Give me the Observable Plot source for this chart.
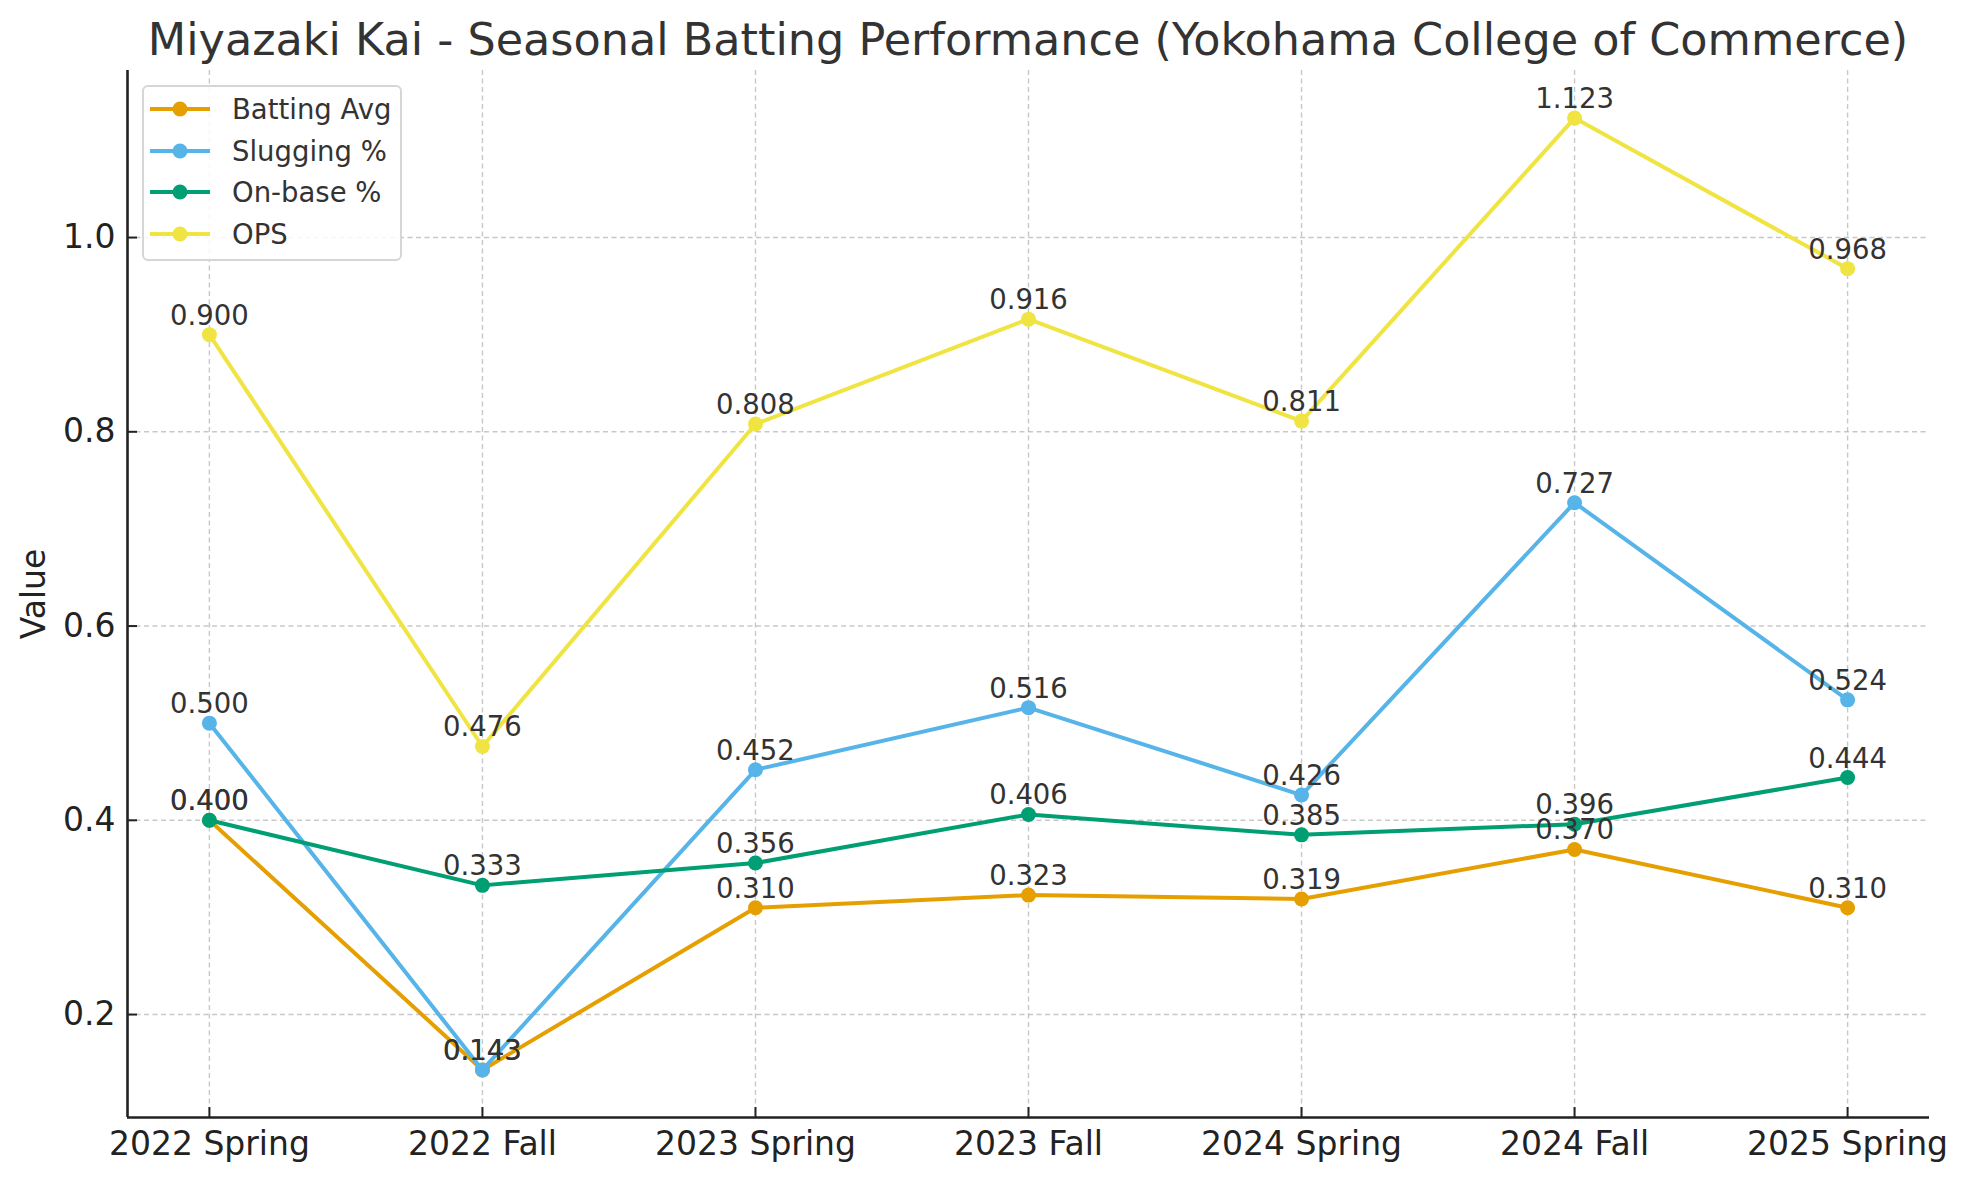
<!DOCTYPE html>
<html>
<head>
<meta charset="utf-8">
<script src="https://cdn.jsdelivr.net/npm/d3@7"></script>
<script src="https://cdn.jsdelivr.net/npm/@observablehq/plot@0.6"></script>
<style>
  html, body { margin: 0; padding: 0; background: #fff; }
  #figure { position: relative; width: 1968px; height: 1180px; font-family: "DejaVu Sans", sans-serif; color: #333; }
  #title { position: absolute; left: 127px; width: 1802px; top: 14px; line-height: 52px; text-align: center; font-size: 44.5px; color: #333; }
  #legend { position: absolute; left: 142px; top: 85px; width: 256px; height: 171px; border: 2px solid #d6d6d6; border-radius: 6px; background: rgba(255,255,255,0.85); box-sizing: content-box; padding-top: 1px; }
  .row { display: flex; align-items: center; height: 41.7px; }
  .row svg { margin-left: 6px; margin-right: 22px; }
  .row span { font-size: 27.5px; color: #333; white-space: nowrap; }
</style>
</head>
<body>
<div id="figure">
  <div id="title">Miyazaki Kai - Seasonal Batting Performance (Yokohama College of Commerce)</div>
  <div id="plot"></div>
  <div id="legend"></div>
</div>
<script>
// Season-by-season batting line
const seasons = ["2022 Spring", "2022 Fall", "2023 Spring", "2023 Fall", "2024 Spring", "2024 Fall", "2025 Spring"];
const battingAvg = [0.400, 0.143, 0.310, 0.323, 0.319, 0.370, 0.310];
const slugging   = [0.500, 0.143, 0.452, 0.516, 0.426, 0.727, 0.524];
const onBase     = [0.400, 0.333, 0.356, 0.406, 0.385, 0.396, 0.444];
const ops        = [0.900, 0.476, 0.808, 0.916, 0.811, 1.123, 0.968];
const yTicks = [0.2, 0.4, 0.6, 0.8, 1.0];

const seriesNames  = ["Batting Avg", "Slugging %", "On-base %", "OPS"];
const seriesValues = [battingAvg, slugging, onBase, ops];
const seriesColors = ["#E69F00", "#56B4E9", "#009E73", "#F0E442"];

const rows = seriesNames.flatMap((name, s) =>
  seriesValues[s].map((v, i) => ({series: name, idx: i, value: v, color: seriesColors[s]}))
);

// 5% padding around the data extent on the value axis
const allVals = seriesValues.flat();
const [vmin, vmax] = d3.extent(allVals);
const pad = (vmax - vmin) * 0.05;
const yDomain = [vmin - pad, vmax + pad];
const xDomain = [-0.3, seasons.length - 1 + 0.3];

const W = 1968, H = 1180;
const mL = 127, mR = 39, mT = 70, mB = 63;
const frameW = W - mL - mR, frameH = H - mT - mB;
const tickLen = 10;
const gridStyle = {stroke: "#b0b0b0", strokeOpacity: 0.7, strokeWidth: 1.4, strokeDasharray: "5,3.5"};

const marks = [
  Plot.gridX(d3.range(seasons.length), gridStyle),
  Plot.gridY(yTicks, gridStyle),
  // inward tick marks
  Plot.ruleX(d3.range(seasons.length), {x: d => d, insetTop: frameH - tickLen, stroke: "#222", strokeWidth: 2}),
  Plot.ruleY(yTicks, {y: d => d, insetRight: frameW - tickLen, stroke: "#222", strokeWidth: 2}),
  Plot.axisX(d3.range(seasons.length), {tickSize: 0, tickPadding: 14, tickFormat: i => seasons[i], fontSize: 33, fill: "#222", label: null}),
  Plot.axisY(yTicks, {tickSize: 0, tickPadding: 12, tickFormat: d3.format(".1f"), fontSize: 33, fill: "#222", label: null}),
  Plot.text(["Value"], {frameAnchor: "left", dx: -93, rotate: -90, textAnchor: "middle", fontSize: 33, fill: "#222", text: d => d}),
];

seriesNames.forEach((name, s) => {
  const data = rows.filter(r => r.series === name);
  marks.push(Plot.line(data, {x: "idx", y: "value", stroke: seriesColors[s], strokeWidth: 4}));
  marks.push(Plot.dot(data, {x: "idx", y: "value", fill: seriesColors[s], r: 7.5}));
});

marks.push(Plot.text(rows, {x: "idx", y: "value", text: d => d3.format(".3f")(d.value), lineAnchor: "bottom", dy: -10, fontSize: 27.5, fill: "#333"}));

// left and bottom spines
marks.push(Plot.ruleX([xDomain[0]], {stroke: "#222", strokeWidth: 2.6}));
marks.push(Plot.ruleY([yDomain[0]], {stroke: "#222", strokeWidth: 2.6}));

const chart = Plot.plot({
  width: W, height: H,
  marginLeft: mL, marginRight: mR, marginTop: mT, marginBottom: mB,
  style: {fontFamily: "DejaVu Sans, sans-serif", background: "transparent", overflow: "visible"},
  x: {type: "linear", domain: xDomain, axis: null},
  y: {type: "linear", domain: yDomain, axis: null},
  marks
});
document.getElementById("plot").appendChild(chart);

// legend
const legend = d3.select("#legend");
seriesNames.forEach((name, s) => {
  const row = legend.append("div").attr("class", "row");
  const sw = row.append("svg").attr("width", 60).attr("height", 20);
  sw.append("line").attr("x1", 0).attr("x2", 60).attr("y1", 10).attr("y2", 10).attr("stroke", seriesColors[s]).attr("stroke-width", 4);
  sw.append("circle").attr("cx", 30).attr("cy", 10).attr("r", 7.5).attr("fill", seriesColors[s]);
  row.append("span").text(name);
});
</script>
</body>
</html>
